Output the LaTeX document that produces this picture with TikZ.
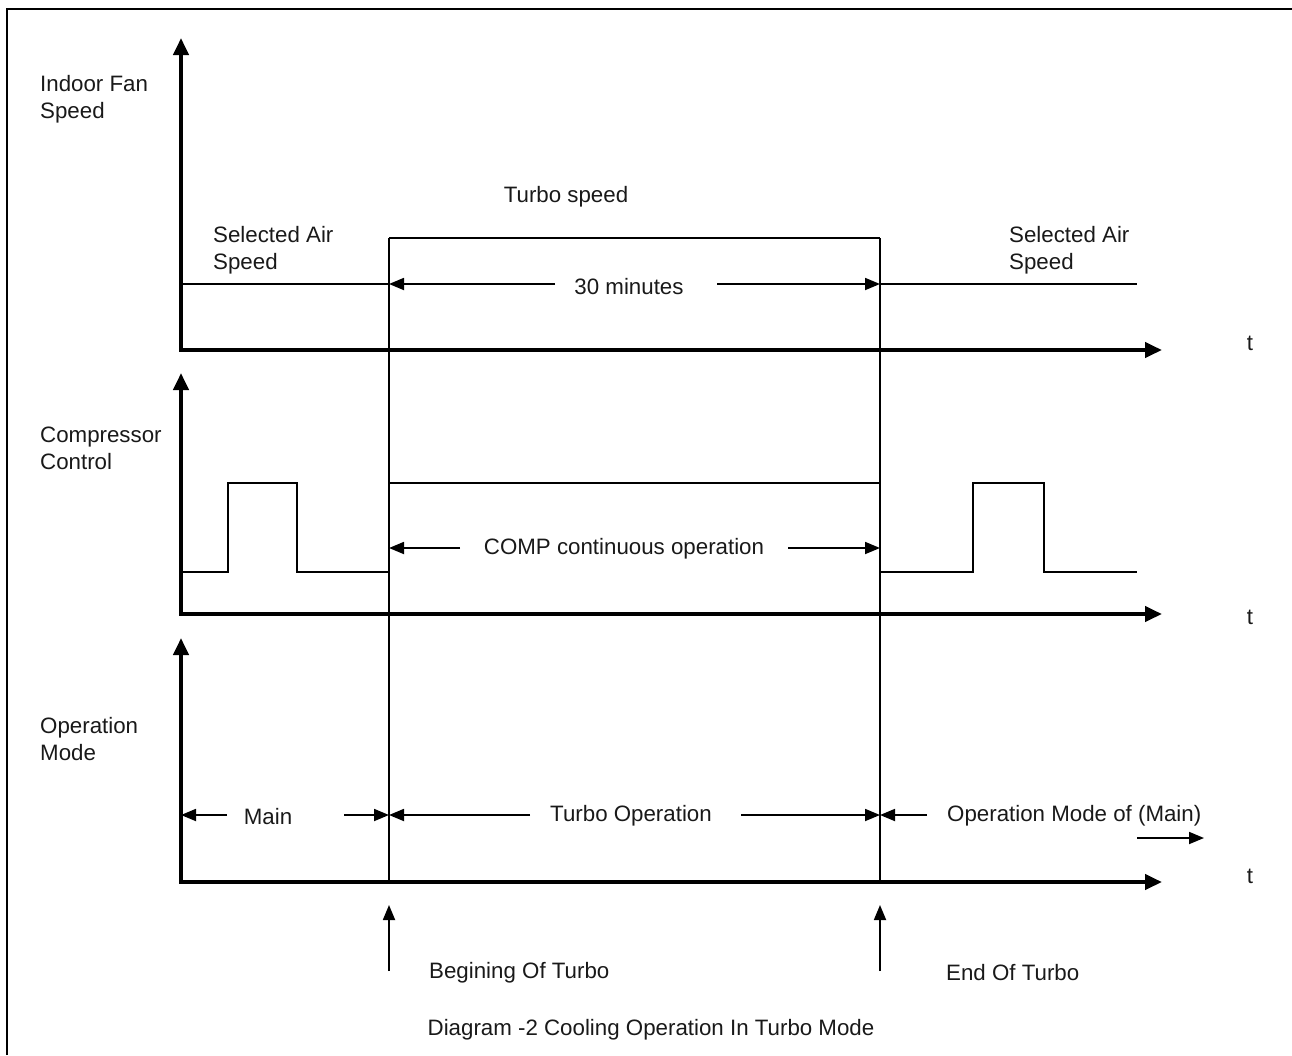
\documentclass[tikz,border=0pt]{standalone}
\usepackage{fontspec}
\setmainfont{Liberation Sans}
\usetikzlibrary{arrows.meta}
\begin{document}
\begin{tikzpicture}[x=1pt,y=-1pt,line join=miter,
  axis/.style={line width=4pt,{Triangle[width=15pt,length=17pt]}-{Triangle[width=15pt,length=17pt]}},
  sig/.style={line width=1.5pt},
  dim/.style={line width=1.8pt,-{Triangle[width=12pt,length=15pt]}},
  lbl/.style={font=\fontsize{22.3}{27}\selectfont,inner sep=0pt,align=left,text=black!90}]
\useasboundingbox (0,0) rectangle (1292,1055);
% frame (top and left edges)
\draw[line width=2pt] (7,1055) -- (7,9) -- (1292,9);
% named time marks
\coordinate (b1) at (389,0);
\coordinate (b2) at (880,0);
% axes
\coordinate (o1) at (181,350);
\coordinate (o2) at (181,614);
\coordinate (o3) at (181,882);
\draw[axis] (181,38) -- (o1) -- (1162,350);
\draw[axis] (181,373) -- (o2) -- (1162,614);
\draw[axis] (181,638) -- (o3) -- (1162,882);
% vertical marker lines
\draw[sig] (b1 |- 0,238) -- (b1 |- o3);
\draw[sig] (b2 |- 0,238) -- (b2 |- o3);
% fan speed signal
\draw[sig] (181,284) -- (b1 |- 0,284);
\draw[sig] (b1 |- 0,238) -- (b2 |- 0,238);
\draw[sig] (b2 |- 0,284) -- (1137,284);
% compressor signal
\draw[sig] (181,572) -- (228,572) -- (228,483) -- (297,483) -- (297,572) -- (b1 |- 0,572);
\draw[sig] (b1 |- 0,483) -- (b2 |- 0,483);
\draw[sig] (b2 |- 0,572) -- (973,572) -- (973,483) -- (1044,483) -- (1044,572) -- (1137,572);
% labels
\node[lbl,anchor=west] (fan) at (40,99) {Indoor Fan\\Speed};
\node[lbl] (turbo) at (566,197) {Turbo speed};
\node[lbl,anchor=west] (sel1) at (213,250) {Selected Air\\Speed};
\node[lbl,anchor=west] (sel2) at (1009,250) {Selected Air\\Speed};
\node[lbl] (min) at (629,287) {30 minutes};
\draw[dim] (555,284) -- (b1 |- 0,284);
\draw[dim] (717,284) -- (b2 |- 0,284);
\node[lbl] (t1) at (1250,343) {t};
\node[lbl,anchor=west] (comp) at (40,448) {Compressor\\Control};
\node[lbl] (cont) at (624,549) {COMP continuous operation};
\draw[dim] (460,548) -- (b1 |- 0,548);
\draw[dim] (788,548) -- (b2 |- 0,548);
\node[lbl] (t2) at (1250,617) {t};
\node[lbl,anchor=west] (mode) at (40,739) {Operation\\Mode};
\node[lbl] (main) at (268,817) {Main};
\draw[dim] (227,815) -- (o3 |- 0,815);
\draw[dim] (344,815) -- (b1 |- 0,815);
\node[lbl] (top) at (631,816) {Turbo Operation};
\draw[dim] (530,815) -- (b1 |- 0,815);
\draw[dim] (741,815) -- (b2 |- 0,815);
\node[lbl,anchor=west] (omm) at (947,816) {Operation Mode of (Main)};
\draw[dim] (927,815) -- (b2 |- 0,815);
\coordinate (mt) at (1137,838);
\draw[dim] (mt) -- ++(67,0);
\node[lbl] (t3) at (1250,876) {t};
% begin/end markers
\draw[dim] (b1 |- 0,971) -- (b1 |- 0,905);
\draw[dim] (b2 |- 0,971) -- (b2 |- 0,905);
\node[lbl,anchor=west] (beg) at (429,973) {Begining Of Turbo};
\node[lbl,anchor=west] (end) at (946,973) {End Of Turbo};
\node[lbl] (cap) at (651,1030) {Diagram -2 Cooling Operation In Turbo Mode};
\end{tikzpicture}
\end{document}
